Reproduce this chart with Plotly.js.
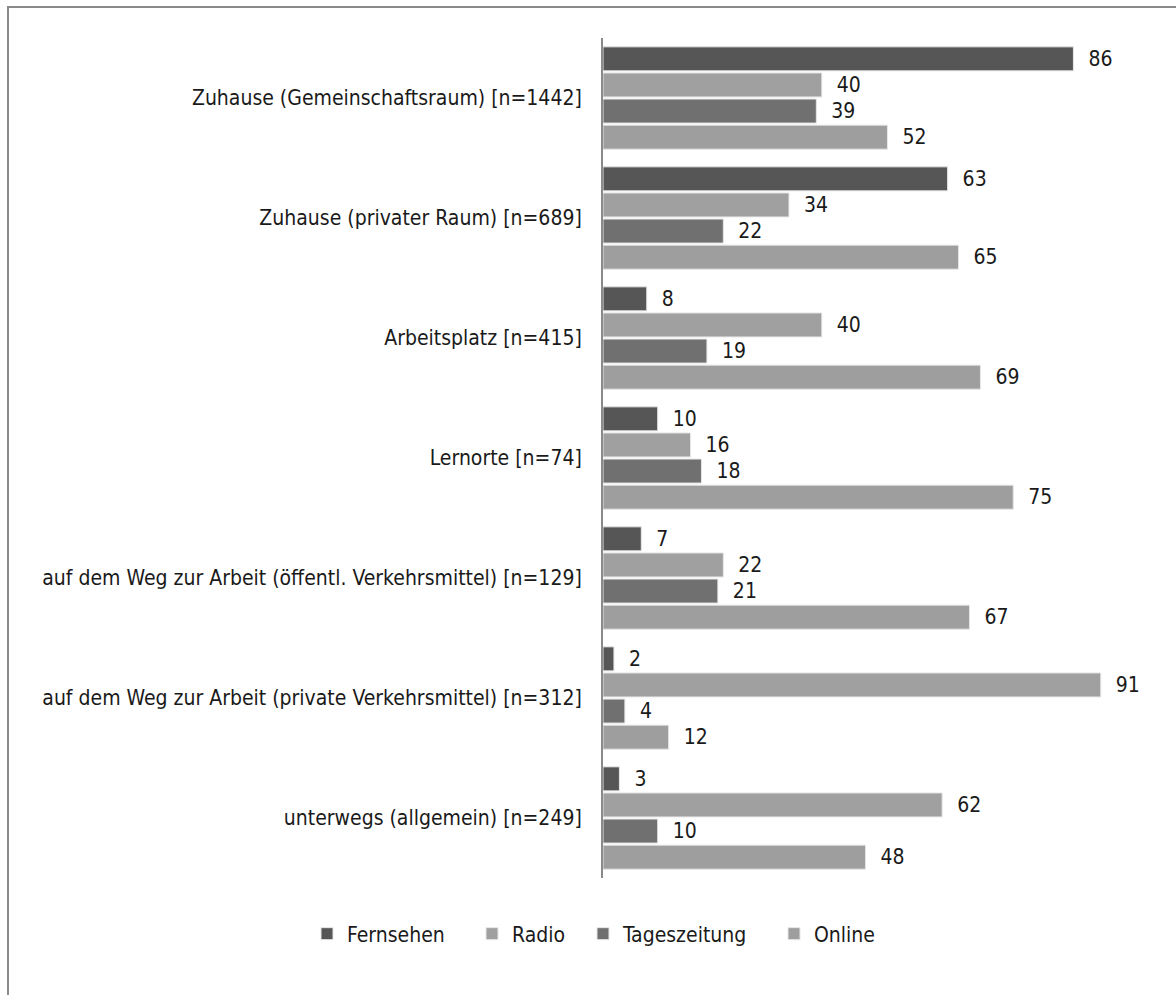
<!DOCTYPE html>
<html>
<head>
<meta charset="utf-8">
<script src="https://cdn.plot.ly/plotly-3.0.1.min.js"></script>
<style>
  html, body { margin: 0; padding: 0; background: #fff; }
  #chart { width: 1176px; height: 995px; }
  #frame { position: absolute; left: 7px; top: 6px; width: 1200px; height: 1000px;
           border-left: 2px solid #8a8a8a; border-top: 2px solid #8a8a8a; pointer-events: none; }
</style>
</head>
<body>
<div id="chart"></div>
<div id="frame"></div>
<script>
const categories = [
  "Zuhause (Gemeinschaftsraum) [n=1442]",
  "Zuhause (privater Raum) [n=689]",
  "Arbeitsplatz [n=415]",
  "Lernorte [n=74]",
  "auf dem Weg zur Arbeit (öffentl. Verkehrsmittel) [n=129]",
  "auf dem Weg zur Arbeit (private Verkehrsmittel) [n=312]",
  "unterwegs (allgemein) [n=249]"
];
const seriesNames = ["Fernsehen", "Radio", "Tageszeitung", "Online"];
const fernsehen    = [86, 63, 8, 10, 7, 2, 3];
const radio        = [40, 34, 40, 16, 22, 91, 62];
const tageszeitung = [39, 22, 19, 18, 21, 4, 10];
const online       = [52, 65, 69, 75, 67, 12, 48];
const seriesValues = [fernsehen, radio, tageszeitung, online];
const seriesColors = ["#565656", "#a0a0a0", "#707070", "#9e9e9e"];

const FONT = "'DejaVu Sans Condensed', 'Liberation Sans', sans-serif";
const legendIds = ["legend", "legend2", "legend3", "legend4"];
const legendX = [321, 486, 597, 788];

const traces = seriesValues.map((vals, i) => ({
  type: "bar",
  orientation: "h",
  name: seriesNames[i],
  legend: legendIds[i],
  y: categories,
  x: vals,
  marker: { color: seriesColors[i], line: { color: "#e6e6e6", width: 1 } },
  text: vals.map(String),
  texttemplate: "\u00a0\u00a0%{text}",
  textposition: "outside",
  constraintext: "none",
  cliponaxis: false,
  textfont: { family: FONT, size: 21, color: "#1a1a1a" },
  hoverinfo: "x+name"
}));

const layout = {
  width: 1176,
  height: 995,
  margin: { l: 603, r: 26, t: 38, b: 117 },
  paper_bgcolor: "#ffffff",
  plot_bgcolor: "#ffffff",
  font: { family: FONT, size: 21, color: "#1a1a1a" },
  barmode: "group",
  bargap: 0.13,
  bargroupgap: 0.08,
  showlegend: true,
  xaxis: {
    range: [0, 100],
    showgrid: false, zeroline: false, showline: false,
    showticklabels: false, ticks: ""
  },
  yaxis: {
    type: "category",
    autorange: "reversed",
    showgrid: false, zeroline: false,
    showline: true, linecolor: "#8a8a8a", linewidth: 2,
    ticks: "", ticklabelstandoff: 15,
    tickfont: { family: FONT, size: 21, color: "#1a1a1a" }
  }
};
legendIds.forEach((id, i) => {
  layout[id] = {
    orientation: "h",
    xref: "container", yref: "container",
    x: (legendX[i] - 14) / 1176, xanchor: "left",
    y: 0.0613, yanchor: "middle",
    bgcolor: "rgba(0,0,0,0)",
    font: { family: FONT, size: 21, color: "#1a1a1a" }
  };
});

Plotly.newPlot("chart", traces, layout, { displayModeBar: false, staticPlot: true });
</script>
</body>
</html>
